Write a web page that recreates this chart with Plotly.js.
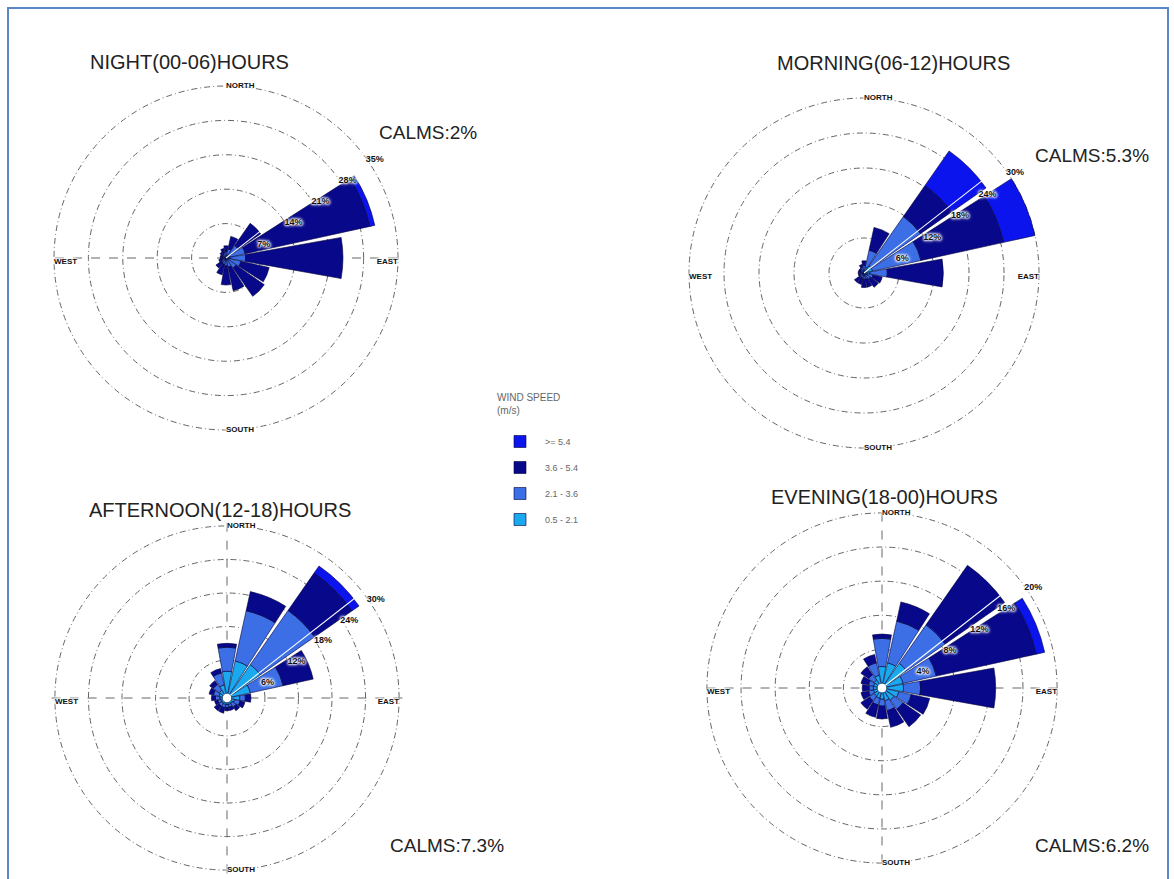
<!DOCTYPE html>
<html>
<head>
<meta charset="utf-8">
<script src="https://cdn.plot.ly/plotly-3.0.1.min.js"></script>
<style>
  html, body { margin: 0; padding: 0; background: #ffffff; }
  #chart { width: 1174px; height: 879px; }
  #frame { position: absolute; left: 7px; top: 7px; width: 1158px; height: 880px;
           border: 2px solid #5b86c8; border-bottom: none; pointer-events: none; }
</style>
</head>
<body>
<div id="chart"></div>
<div id="frame"></div>
<script>
// ---- categories ----
const directions = ['N','NNE','NE','ENE','E','ESE','SE','SSE','S','SSW','SW','WSW','W','WNW','NW','NNW'];
const compassTicks = ['N','E','S','W'];
const compassLabels = ['NORTH','EAST','SOUTH','WEST'];
const speedBins = ['0.5 - 2.1','2.1 - 3.6','3.6 - 5.4','>= 5.4'];

// ---- NIGHT (00-06) : % frequency per speed bin ----
const night_05_21 = [0.3,0.4,0.6,0.8,0.8,0.6,0.5,0.4,0.4,0.3,0.3,0.2,0.2,0.2,0.2,0.3];
const night_21_36 = [1.0,1.5,2.5,3.2,3.2,2.5,2.0,1.5,1.2,1.0,0.8,0.6,0.5,0.5,0.6,0.8];
const night_36_54 = [1.2,2.6,5.5,26.0,19.8,5.9,7.0,4.9,3.9,2.2,1.4,0.7,0.5,0.5,0.7,0.9];
const night_54_up = [0,0,0,1.0,0,0,0,0,0,0,0,0,0,0,0,0];
const nightRings = [7,14,21,28,35];

// ---- MORNING (06-12) ----
const morning_05_21 = [0.5,1.0,1.5,1.5,1.0,0.6,0.5,0.5,0.5,0.4,0.4,0.3,0.3,0.3,0.3,0.4];
const morning_21_36 = [0.8,3.0,10.3,8.5,3.0,1.0,0.8,0.6,0.6,0.5,0.5,0.4,0.3,0.3,0.4,0.6];
const morning_36_54 = [0.8,4.0,6.5,14.5,9.6,1.6,1.7,1.4,1.4,1.1,1.1,0.3,0.4,0.4,0.3,0.5];
const morning_54_up = [0,0,7.2,5.5,0,0,0,0,0,0,0,0,0,0,0,0];
const morningRings = [6,12,18,24,30];

// ---- AFTERNOON (12-18) ----
const afternoon_05_21 = [4.0,6.0,6.5,3.5,1.5,0.6,0.4,0.4,0.4,0.4,0.4,0.4,0.5,0.7,0.9,1.6];
const afternoon_21_36 = [4.3,9.2,11.8,6.0,1.0,1.0,0.8,0.5,0.5,0.6,0.6,0.5,0.8,1.0,1.3,2.2];
const afternoon_36_54 = [0.7,3.5,8.2,5.5,1.0,0.9,0.8,0.6,0.6,1.0,1.0,0.6,0.7,0.8,0.8,0.8];
const afternoon_54_up = [0,0,1.5,0,0,0,0,0,0,0,0,0,0,0,0,0];
const afternoonRings = [6,12,18,24,30];

// ---- EVENING (18-00) ----
const evening_05_21 = [2.0,2.5,3.0,2.0,2.0,1.5,1.2,1.0,0.8,0.7,0.6,0.5,0.5,0.5,0.6,1.0];
const evening_21_36 = [3.3,5.0,5.5,4.0,2.0,1.5,1.3,1.2,0.8,0.8,0.7,0.6,0.5,0.6,0.8,1.5];
const evening_36_54 = [0.5,2.3,8.5,12.0,8.8,2.2,2.5,2.0,1.5,1.5,1.2,0.9,0.8,0.9,1.1,1.0];
const evening_54_up = [0,0,0,1.0,0,0,0,0,0,0,0,0,0,0,0,0];
const eveningRings = [4,8,12,16,20];

// ---- panel text ----
const panelTitles = ['NIGHT(00-06)HOURS','MORNING(06-12)HOURS','AFTERNOON(12-18)HOURS','EVENING(18-00)HOURS'];
const calmsLabels = ['CALMS:2%','CALMS:5.3%','CALMS:7.3%','CALMS:6.2%'];

// ---- styling / layout (not data) ----
const binColors = ['#1aa8ee','#3c6ee6','#08088a','#0c14ee'];
const WHITE_BOX = '0 0 2px #fff, 0 0 2px #fff, 0 0 3px #fff, 0 0 3px #fff, 0 0 4px #fff';
const W = 1174, H = 879;
const RANGE_PAD = 1.02;
const panelGeom = [
  {id:'polar',  cx:226, cy:258, r:172, hole:0,    gridDirs:['E','W'],          tx:190, ty:62,  calx:428,  caly:133},
  {id:'polar2', cx:864, cy:273, r:175, hole:0,    gridDirs:[],                 tx:893, ty:63,  calx:1092, caly:156},
  {id:'polar3', cx:227, cy:698, r:172, hole:0.025,gridDirs:['N','E','S','W'],  tx:220, ty:510, calx:447,  caly:845},
  {id:'polar4', cx:882, cy:688, r:175, hole:0.025,gridDirs:['N','E','S','W'],  tx:884, ty:497, calx:1092, caly:845}
];

const panelData = [
  {bins:[night_05_21, night_21_36, night_36_54, night_54_up], rings:nightRings},
  {bins:[morning_05_21, morning_21_36, morning_36_54, morning_54_up], rings:morningRings},
  {bins:[afternoon_05_21, afternoon_21_36, afternoon_36_54, afternoon_54_up], rings:afternoonRings},
  {bins:[evening_05_21, evening_21_36, evening_36_54, evening_54_up], rings:eveningRings}
];

const traces = [];
const layout = {
  width: W, height: H,
  margin: {l:0, r:0, t:0, b:0},
  paper_bgcolor: '#ffffff',
  font: {family: 'Arial, Liberation Sans, sans-serif', color: '#222'},
  showlegend: true,
  legend: {
    x: 495/W, y: 1 - 388/H, xanchor: 'left', yanchor: 'top',
    traceorder: 'grouped',
    tracegroupgap: 7,
    title: {text: 'WIND SPEED<br>(m/s)<br> ', font: {size: 10, color: '#666'}},
    font: {size: 9, color: '#666'},
    bgcolor: 'rgba(0,0,0,0)',
    itemwidth: 40
  },
  annotations: []
};

panelGeom.forEach((g, pi) => {
  const d = panelData[pi];
  const rmax = d.rings[d.rings.length - 1];
  d.bins.forEach((vals, bi) => {
    traces.push({
      type: 'barpolar',
      subplot: g.id,
      r: vals,
      theta: directions,
      name: speedBins[bi],
      legendgroup: speedBins[bi],
      legendrank: 10 - bi,
      showlegend: pi === 0,
      marker: {color: binColors[bi], line: {color: '#00003a', width: 0.6}},
      hoverinfo: 'skip'
    });
  });
  // compass labels sitting on the outer ring
  traces.push({
    type: 'scatterpolar',
    subplot: g.id,
    mode: 'text',
    r: compassTicks.map(() => rmax),
    theta: compassTicks,
    text: compassLabels,
    textposition: ['middle right','bottom left','middle right','bottom right'],
    textfont: {size: 8, color: '#111', weight: 'bold', shadow: WHITE_BOX},
    cliponaxis: false,
    showlegend: false,
    hoverinfo: 'skip'
  });
  const R = g.r * RANGE_PAD;
  layout[g.id] = {
    domain: {
      x: [(g.cx - R) / W, (g.cx + R) / W],
      y: [1 - (g.cy + R) / H, 1 - (g.cy - R) / H]
    },
    bgcolor: 'rgba(0,0,0,0)',
    hole: g.hole,
    barmode: 'stack',
    radialaxis: {
      range: [0, rmax * RANGE_PAD],
      tickvals: d.rings,
      ticktext: d.rings.map(v => v + '%'),
      angle: 38,
      tickangle: 38,
      showline: true,
      linecolor: '#ffffff',
      linewidth: 1,
      ticks: '',
      gridcolor: '#666666',
      gridwidth: 1,
      griddash: '6px,3px,1px,3px',
      tickfont: {size: 9, color: '#111', weight: 'bold', shadow: WHITE_BOX}
    },
    angularaxis: {
      type: 'category',
      categoryarray: directions,
      rotation: 90,
      direction: 'clockwise',
      tickmode: 'array',
      tickvals: g.gridDirs,
      showticklabels: false,
      showgrid: g.gridDirs.length > 0,
      gridcolor: '#666666',
      griddash: 'dash',
      showline: false,
      ticks: ''
    }
  };
  layout.annotations.push({
    text: panelTitles[pi], xref: 'paper', yref: 'paper',
    x: g.tx / W, y: 1 - g.ty / H, xanchor: 'center', yanchor: 'middle',
    showarrow: false, font: {size: 20, color: '#222'}
  });
  layout.annotations.push({
    text: calmsLabels[pi], xref: 'paper', yref: 'paper',
    x: g.calx / W, y: 1 - g.caly / H, xanchor: 'center', yanchor: 'middle',
    showarrow: false, font: {size: 19, color: '#222'}
  });
});

Plotly.newPlot('chart', traces, layout, {staticPlot: true, displayModeBar: false});
</script>
</body>
</html>
